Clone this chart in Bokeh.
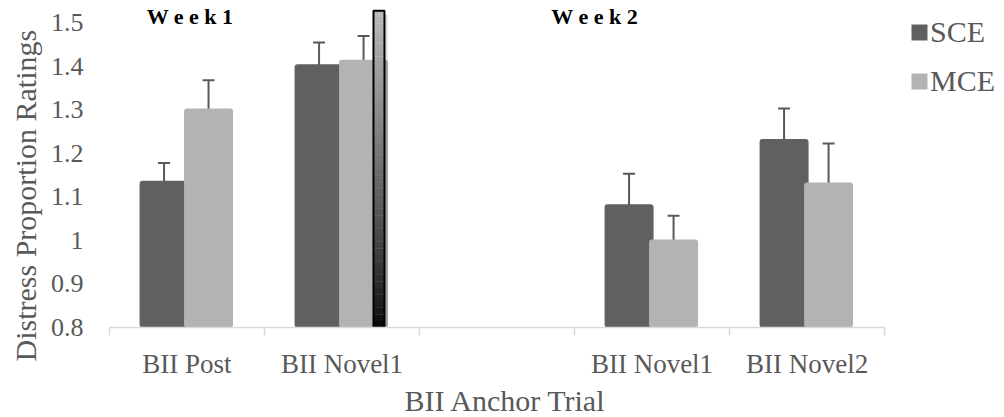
from bokeh.plotting import figure
from bokeh.models import (Range1d, FixedTicker, Whisker, TeeHead, ColumnDataSource,
                          Legend, LegendItem, Title)
from bokeh.core.properties import value
from bokeh.embed import file_html
from bokeh.resources import INLINE

# ---- data ----
categories = ["BII Post", "BII Novel1", "", "BII Novel1", "BII Novel2"]
sce_values = [1.137, 1.405, None, 1.083, 1.233]
sce_errors = [0.041, 0.050, None, 0.070, 0.070]
mce_values = [1.303, 1.415, None, 1.002, 1.133]
mce_errors = [0.065, 0.055, None, 0.055, 0.090]
week_labels = ["W e e k 1", "W e e k 2"]
week_x = [0.52, 3.13]
y_ticks = [0.8, 0.9, 1.0, 1.1, 1.2, 1.3, 1.4, 1.5]

FONT = "Liberation Serif"
GREY_TXT = "#595959"
SCE_COL = "#606060"
MCE_COL = "#b3b3b3"
BAR_W = 0.316
SCE_OFF = -0.148
MCE_OFF = 0.139

ncat = len(categories)
# frame runs to the right edge so the legend can sit inside it; axis line stops at the last category
p = figure(width=1004, height=417, output_backend="svg", toolbar_location=None,
           x_range=Range1d(0, 5.774), y_range=Range1d(0.8, 1.5513),
           min_border_left=109, min_border_right=0, min_border_top=0,
           min_border_bottom=90)
p.outline_line_color = None
p.xgrid.visible = False
p.ygrid.visible = False


def series_source(values, errors, offset):
    xs, tops, lo, hi = [], [], [], []
    for i, (v, e) in enumerate(zip(values, errors)):
        if v is None:
            continue
        xs.append(i + 0.5 + offset)
        tops.append(v)
        lo.append(v - e)
        hi.append(v + e)
    return ColumnDataSource(dict(x=xs, top=tops, lower=lo, upper=hi))


src_sce = series_source(sce_values, sce_errors, SCE_OFF)
src_mce = series_source(mce_values, mce_errors, MCE_OFF)

r_sce = p.vbar(x="x", top="top", bottom=0.8, width=BAR_W, source=src_sce,
               fill_color=SCE_COL, line_color=None, border_radius=3)
r_mce = p.vbar(x="x", top="top", bottom=0.8, width=BAR_W, source=src_mce,
               fill_color=MCE_COL, line_color=None, border_radius=3)

for src in (src_sce, src_mce):
    w = Whisker(base="x", lower="lower", upper="upper", source=src,
                line_color=GREY_TXT, line_width=2,
                upper_head=TeeHead(size=12, line_color=GREY_TXT, line_width=2),
                lower_head=TeeHead(size=12, line_color=GREY_TXT, line_width=2))
    p.add_layout(w)

# ---- divider bar (decoration) ----
n = 48
x0_div, x1_div = 1.703, 1.774
y_lo, y_hi = 0.8, 1.528
step = (y_hi - y_lo) / n
bots, tps, cols = [], [], []
for k in range(n):
    b = y_lo + k * step
    f = k / (n - 1)
    g = int(8 + 177 * (f ** 0.8))
    bots.append(b)
    tps.append(b + step * 1.02)
    cols.append("#%02x%02x%02x" % (g, g, g))
p.quad(left=x0_div + 0.012, right=x1_div + 0.02, bottom=y_lo - 0.012, top=y_hi - 0.01,
       fill_color="#000000", fill_alpha=0.12, line_color=None)
p.quad(left=x0_div, right=x1_div, bottom=bots, top=tps, fill_color=cols, line_color=None)
p.quad(left=x0_div, right=x1_div, bottom=y_lo, top=y_hi, fill_color=None,
       line_color="#000000", line_width=2)

# ---- week labels ----
p.text(x=week_x, y=[1.514, 1.514], text=week_labels, text_align="center",
       text_baseline="middle", text_font=value(FONT), text_font_style="bold",
       text_font_size="22px", text_color="#000000")

# ---- axes ----
xa = p.xaxis[0]
xa.bounds = (0, ncat)
xa.ticker = FixedTicker(ticks=[i + 0.5 for i, c in enumerate(categories) if c],
                        minor_ticks=list(range(ncat + 1)))
xa.major_label_overrides = {i + 0.5: c for i, c in enumerate(categories) if c}
xa.major_tick_line_color = None
xa.major_tick_out = 6
xa.minor_tick_line_color = "#d9d9d9"
xa.minor_tick_line_width = 1.5
xa.minor_tick_out = 8
xa.minor_tick_in = 0
xa.axis_line_color = "#d9d9d9"
xa.axis_line_width = 1.5
xa.major_label_text_font = FONT
xa.major_label_text_font_size = "27px"
xa.major_label_text_color = GREY_TXT
xa.major_label_standoff = 13

ya = p.yaxis[0]
ya.ticker = FixedTicker(ticks=y_ticks)
ya.major_label_overrides = {1: "1"}
ya.axis_line_color = None
ya.major_tick_line_color = None
ya.minor_tick_line_color = None
ya.major_tick_out = 0
ya.major_tick_in = 0
ya.major_label_standoff = 26
ya.major_label_text_font = FONT
ya.major_label_text_font_size = "26px"
ya.major_label_text_color = GREY_TXT

# ---- axis titles (side titles, so they can be placed like the original) ----
p.add_layout(Title(text="Distress Proportion Ratings", align="left", offset=-34,
                   vertical_align="top", standoff=8, text_font=FONT,
                   text_font_size="30px", text_font_style="normal",
                   text_color=GREY_TXT), "left")
p.add_layout(Title(text="BII Anchor Trial", align="left", offset=295,
                   vertical_align="bottom", standoff=0, text_font=FONT,
                   text_font_size="30px", text_font_style="normal",
                   text_color=GREY_TXT), "below")

# ---- legend ----
legend = Legend(items=[LegendItem(label="SCE", renderers=[r_sce]),
                       LegendItem(label="MCE", renderers=[r_mce])],
                location=(800, 229), orientation="vertical",
                glyph_width=20, glyph_height=20, label_height=20, spacing=15,
                label_standoff=1, padding=0, margin=0,
                border_line_color=None, background_fill_alpha=0,
                label_text_font=FONT, label_text_font_size="30px",
                label_text_color=GREY_TXT)
p.add_layout(legend, "center")

open("out.html", "w").write(file_html(p, INLINE))
